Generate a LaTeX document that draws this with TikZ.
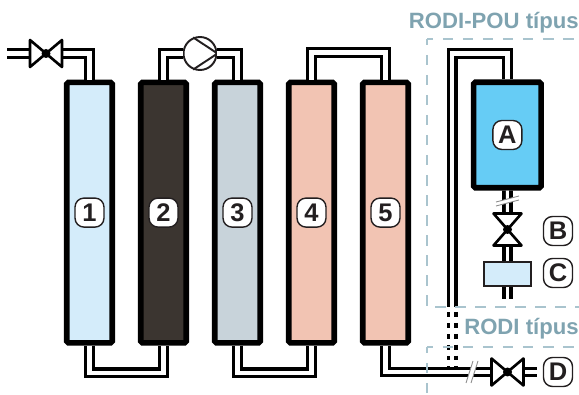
\documentclass[tikz,border=0pt]{standalone}
\usepackage{fontspec}
\setmainfont{Liberation Sans}
\begin{document}
\begin{tikzpicture}[x=0.02cm,y=-0.02cm, every node/.style={font=\bfseries},
    pipe/.style={draw=black, line width=1.9pt, double=white, double distance=2.4pt},
    pipeB/.style={draw=black, line width=2.2pt, double=white, double distance=1.7pt},
    column/.style={draw=black, line width=3.2pt, rounded corners=1pt, minimum width=0.91cm, minimum height=5.21cm, inner sep=0pt},
    tag/.style={draw=ocDark, line width=0.8pt, fill=white, rounded corners=0.18cm, minimum size=0.58cm, inner sep=0pt, text=ocDark, font=\bfseries\fontsize{14.5}{14.5}\selectfont},
    valve/.style={minimum width=0.64cm, minimum height=0.54cm, inner sep=0pt, outer sep=0pt},
    valveB/.style={minimum width=0.56cm, minimum height=0.64cm, inner sep=0pt, outer sep=0pt},
    valveline/.style={draw=black, fill=white, line width=1.5pt, line join=round},
    frame/.style={draw=ocFrame, line width=0.75pt, dash pattern=on 6pt off 5.4pt, dash phase=2.4pt},
    breakline/.style={draw=ocBreak, line width=0.5pt},
    heading/.style={text=ocHead, font=\bfseries\fontsize{12.6}{12.6}\selectfont, inner sep=0pt}]
  \definecolor{ocDark}{HTML}{231F20}
  \definecolor{ocFrame}{HTML}{A9C4CE}
  \definecolor{ocHead}{HTML}{7FA3B0}
  \definecolor{ocBreak}{HTML}{8C8C8C}
  \definecolor{ocOne}{HTML}{D4ECFA}
  \definecolor{ocTwo}{HTML}{3B3530}
  \definecolor{ocThree}{HTML}{C8D3DA}
  \definecolor{ocFour}{HTML}{F2C4B3}
  \definecolor{ocTank}{HTML}{66CCF5}
  \useasboundingbox (0,0) rectangle (579,395);
  % columns
  \node[column, fill=ocOne] (col1) at (89.5,212.6) {};
  \node[column, fill=ocTwo] (col2) at (163.5,212.6) {};
  \node[column, fill=ocThree] (col3) at (237.5,212.6) {};
  \node[column, fill=ocFour] (col4) at (311.5,212.6) {};
  \node[column, fill=ocFour] (col5) at (385.5,212.6) {};
  \node[tag] (tag1) at (col1) {1};
  \node[tag] (tag2) at (col2) {2};
  \node[tag] (tag3) at (col3) {3};
  \node[tag] (tag4) at (col4) {4};
  \node[tag] (tag5) at (col5) {5};
  % tank and filter
  \node[draw=black, line width=3.2pt, rounded corners=1pt, fill=ocTank, minimum width=1.35cm, minimum height=2.11cm, inner sep=0pt] (tank) at (507.4,135) {};
  \node[tag] (tagA) at (tank) {A};
  \node[draw=ocDark, line width=1.3pt, fill=ocOne, minimum width=0.94cm, minimum height=0.48cm, inner sep=0pt] (filter) at (507.5,274) {};
  \node[tag] (tagB) at (558,231) {B};
  \node[tag] (tagC) at (558,273) {C};
  \node[tag] (tagD) at (558,372) {D};
  % valves and pump
  \node[valve] (vin) at (46,53.5) {};
  \node[valve] (vout) at (507.5,372) {};
  \node[valveB] (vtank) at (507.5,229.5) {};
  \node[draw=ocDark, line width=1.1pt, fill=white, circle, minimum size=0.66cm, inner sep=0pt] (pump) at (200,53.5) {};
  \draw[ocDark, line width=1.1pt] (pump.113) -- (pump.east) -- (pump.247);
  \coordinate (inlet) at (7,53.5);
  \coordinate (rodiTop) at (452.3,53.5);
  \coordinate (rodiEnd) at (452.3,307);
  \coordinate (stubTop) at (452.3,312);
  \coordinate (stubEnd) at (452.3,369);
  \coordinate (outEnd) at (537,372);
  \coordinate (filterEnd) at (507.5,299);
  % pipes
  \draw[pipe] (inlet) -- (vin.west);
  \draw[pipe] (vin.east) -| (col1.north);
  \draw[pipe] (col1.south) -- ++(0,27) -| (col2.south);
  \draw[pipe] (col2.north) |- (pump.west);
  \draw[pipe] (pump.east) -| (col3.north);
  \draw[pipe] (col3.south) -- ++(0,27) -| (col4.south);
  \draw[pipe] (col4.north) -- ++(0,-27) -| (col5.north);
  \draw[pipe, dash pattern=on 2.8pt off 3.4pt] (stubTop) -- (stubEnd);
  \draw[pipe] (col5.south) |- (vout.west);
  \draw[pipe] (vout.east) -- (outEnd);
  \draw[pipe] (tank.north) |- (rodiTop) -- (rodiEnd);
  \draw[pipeB] (tank.south) -- (vtank.north);
  \draw[pipeB] (vtank.south) -- (filter.north);
  \draw[pipeB] (filter.south) -- (filterEnd);
  \draw[valveline] (vin.north west) -- (vin.south east) -- (vin.north east) -- (vin.south west) -- cycle;
  \fill[black] (vin.center) circle (4.5);
  \draw[valveline] (vout.north west) -- (vout.south east) -- (vout.north east) -- (vout.south west) -- cycle;
  \fill[black] (vout.center) circle (4.5);
  \draw[valveline] (vtank.north west) -- (vtank.north east) -- (vtank.south west) -- (vtank.south east) -- cycle;
  \fill[black] (vtank.center) circle (4.5);
  % breaks in the pipes
  \fill[white] (466,383) -- (473,361) -- (478,361) -- (471,383) -- cycle;
  \draw[breakline] (466,383) -- (473,361);
  \draw[breakline] (471,383) -- (478,361);
  \fill[white] (496,202) -- (519,196) -- (519,200) -- (496,206) -- cycle;
  \draw[breakline] (496,202) -- (519,196);
  \draw[breakline] (496,206) -- (519,200);
  % frames
  \draw[frame] (427,39) -- (579,39);
  \draw[frame] (427,39) -- (427,307) -- (579,307);
  \draw[frame] (427,347) -- (579,347);
  \draw[frame] (427,347) -- (427,395);
  \node[heading, anchor=base east] (headPou) at (579,29) {RODI-POU típus};
  \node[heading, anchor=base east] (headRodi) at (579,335) {RODI típus};
\end{tikzpicture}
\end{document}
